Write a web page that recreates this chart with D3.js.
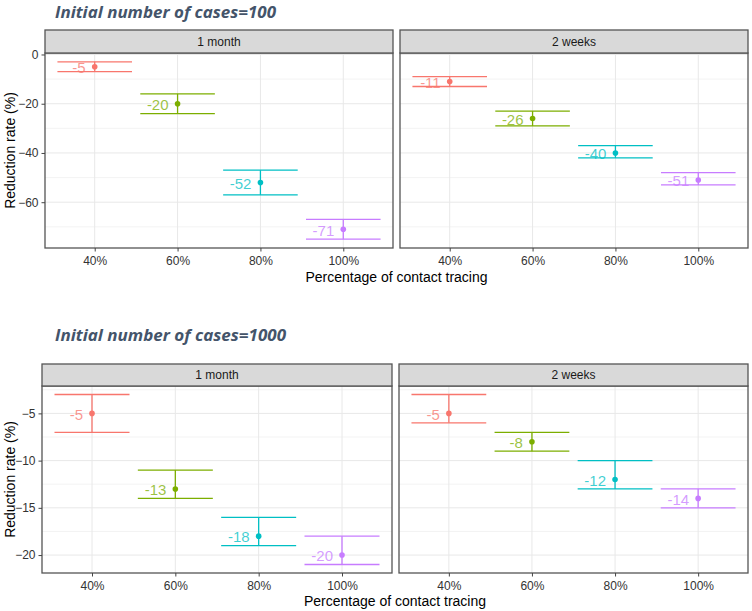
<!DOCTYPE html>
<html>
<head>
<meta charset="utf-8">
<script src="https://cdn.jsdelivr.net/npm/d3@7"></script>
<style>
  html, body { margin: 0; padding: 0; background: #fff; }
  svg { display: block; }
  text { font-family: "Liberation Sans", Arial, sans-serif; }
</style>
</head>
<body>
<svg id="chart" width="752" height="611"></svg>
<script>
// ---------------- data ----------------
const tracing = ["40%", "60%", "80%", "100%"];
const durations = ["1 month", "2 weeks"];
const seriesColors = ["#F8766D", "#7CAE00", "#00BFC4", "#C77CFF"];

const titles = ["Initial number of cases=100", "Initial number of cases=1000"];

// Initial cases = 100
const c100MonthMean = [-5, -20, -52, -71];
const c100MonthLow  = [-7, -24, -57, -75];
const c100MonthHigh = [-3, -16, -47, -67];
const c100WeeksMean = [-11, -26, -40, -51];
const c100WeeksLow  = [-13, -29, -42, -53];
const c100WeeksHigh = [-9, -23, -37, -48];
const yTicks100 = [0, -20, -40, -60];
const yMinor100 = [-10, -30, -50, -70];

// Initial cases = 1000
const c1000MonthMean = [-5, -13, -18, -20];
const c1000MonthLow  = [-7, -14, -19, -21];
const c1000MonthHigh = [-3, -11, -16, -18];
const c1000WeeksMean = [-5, -8, -12, -14];
const c1000WeeksLow  = [-6, -9, -13, -15];
const c1000WeeksHigh = [-3, -7, -10, -13];
const yTicks1000 = [-5, -10, -15, -20];
const yMinor1000 = [-2.5, -7.5, -12.5, -17.5];

const yTitle = "Reduction rate (%)";
const xTitle = "Percentage of contact tracing";

// ---------------- build ----------------
function rows(mean, low, high) {
  return tracing.map((t, i) => ({ t, i, mean: mean[i], low: low[i], high: high[i] }));
}

const charts = [
  {
    title: titles[0], titleY: 18, titleW: 221,
    panels: [rows(c100MonthMean, c100MonthLow, c100MonthHigh), rows(c100WeeksMean, c100WeeksLow, c100WeeksHigh)],
    ticks: yTicks100, minor: yMinor100,
    px: [[45, 393], [400, 748]], stripTop: 30, panelTop: 53, panelBottom: 248,
    xTitleY: 282, yTitleX: 15
  },
  {
    title: titles[1], titleY: 341, titleW: 231,
    panels: [rows(c1000MonthMean, c1000MonthLow, c1000MonthHigh), rows(c1000WeeksMean, c1000WeeksLow, c1000WeeksHigh)],
    ticks: yTicks1000, minor: yMinor1000,
    px: [[42, 392], [399, 748]], stripTop: 364, panelTop: 386, panelBottom: 573,
    xTitleY: 606, yTitleX: 15
  }
];

const svg = d3.select("#chart");

charts.forEach(ch => {
  const g = svg.append("g");

  // title
  g.append("text")
    .attr("x", 55).attr("y", ch.titleY)
    .attr("textLength", ch.titleW).attr("lengthAdjust", "spacingAndGlyphs")
    .style("font-family", "'Open Sans', 'Noto Sans', sans-serif")
    .style("font-style", "italic").style("font-weight", 700)
    .style("font-size", "15.5px").attr("fill", "#44546A")
    .text(ch.title);

  // y scale shared (ggplot 5% expansion)
  const allLow = d3.min(ch.panels.flat(), d => d.low);
  const allHigh = d3.max(ch.panels.flat(), d => d.high);
  const pad = (allHigh - allLow) * 0.05;
  const y = d3.scaleLinear().domain([allLow - pad, allHigh + pad]).range([ch.panelBottom, ch.panelTop]);

  ch.panels.forEach((data, pi) => {
    const [x0, x1] = ch.px[pi];
    const x = d3.scalePoint().domain(tracing).range([x0, x1]).padding(0.6);
    const step = x.step();
    const pg = g.append("g");

    pg.append("rect").attr("x", x0).attr("y", ch.panelTop)
      .attr("width", x1 - x0).attr("height", ch.panelBottom - ch.panelTop).attr("fill", "#fff");

    // minor grid
    pg.selectAll(".minor").data(ch.minor.filter(v => y(v) > ch.panelTop && y(v) < ch.panelBottom))
      .join("line")
      .attr("x1", x0).attr("x2", x1).attr("y1", d => y(d)).attr("y2", d => y(d))
      .attr("stroke", "#f0f0f0").attr("stroke-width", 0.8);
    // major grid
    pg.selectAll(".majorY").data(ch.ticks).join("line")
      .attr("x1", x0).attr("x2", x1).attr("y1", d => y(d)).attr("y2", d => y(d))
      .attr("stroke", "#e8e8e8").attr("stroke-width", 1);
    pg.selectAll(".majorX").data(tracing).join("line")
      .attr("x1", d => x(d)).attr("x2", d => x(d)).attr("y1", ch.panelTop).attr("y2", ch.panelBottom)
      .attr("stroke", "#e8e8e8").attr("stroke-width", 1);

    // error bars
    const eb = pg.selectAll(".eb").data(data).join("g")
      .attr("stroke", d => seriesColors[d.i]).attr("stroke-width", 1.3).attr("fill", "none");
    eb.append("line")
      .attr("x1", d => x(d.t) - 0.45 * step).attr("x2", d => x(d.t) + 0.45 * step)
      .attr("y1", d => y(d.high)).attr("y2", d => y(d.high));
    eb.append("line")
      .attr("x1", d => x(d.t) - 0.45 * step).attr("x2", d => x(d.t) + 0.45 * step)
      .attr("y1", d => y(d.low)).attr("y2", d => y(d.low));
    eb.append("line")
      .attr("x1", d => x(d.t)).attr("x2", d => x(d.t))
      .attr("y1", d => y(d.high)).attr("y2", d => y(d.low));

    // points
    pg.selectAll(".pt").data(data).join("circle")
      .attr("cx", d => x(d.t)).attr("cy", d => y(d.mean)).attr("r", 2.8)
      .attr("fill", d => seriesColors[d.i]);

    // value labels
    pg.selectAll(".lab").data(data).join("text")
      .attr("x", d => x(d.t) - 9).attr("y", d => y(d.mean)).attr("dy", "0.42em")
      .attr("text-anchor", "end").style("font-size", "15px")
      .attr("fill", d => seriesColors[d.i]).attr("fill-opacity", 0.75)
      .text(d => d.mean);

    // panel border
    pg.append("rect").attr("x", x0).attr("y", ch.panelTop)
      .attr("width", x1 - x0).attr("height", ch.panelBottom - ch.panelTop)
      .attr("fill", "none").attr("stroke", "#555").attr("stroke-width", 1.3);

    // strip
    pg.append("rect").attr("x", x0).attr("y", ch.stripTop)
      .attr("width", x1 - x0).attr("height", ch.panelTop - ch.stripTop)
      .attr("fill", "#d9d9d9").attr("stroke", "#555").attr("stroke-width", 1.3);
    pg.append("text")
      .attr("x", (x0 + x1) / 2).attr("y", (ch.stripTop + ch.panelTop) / 2).attr("dy", "0.36em")
      .attr("text-anchor", "middle").style("font-size", "12px").attr("fill", "#1a1a1a")
      .text(durations[pi]);

    // x axis
    const xAxis = d3.axisBottom(x).tickSize(3.5).tickPadding(5);
    const xa = pg.append("g").attr("transform", `translate(0,${ch.panelBottom})`).call(xAxis);
    xa.select(".domain").remove();
    xa.selectAll(".tick line").attr("stroke", "#444");
    xa.selectAll(".tick text").style("font-size", "12px").attr("fill", "#333")
      .style("font-family", "'Liberation Sans', Arial, sans-serif");

    // y axis only on left panel
    if (pi === 0) {
      const yAxis = d3.axisLeft(y).tickValues(ch.ticks).tickSize(3.5).tickPadding(3).tickFormat(d3.format("d"));
      const ya = pg.append("g").attr("transform", `translate(${x0},0)`).call(yAxis);
      ya.select(".domain").remove();
      ya.selectAll(".tick line").attr("stroke", "#444");
      ya.selectAll(".tick text").style("font-size", "12px").attr("fill", "#333")
        .style("font-family", "'Liberation Sans', Arial, sans-serif");
    }
  });

  // axis titles
  const left = ch.px[0][0], right = ch.px[1][1];
  g.append("text")
    .attr("x", (left + right) / 2).attr("y", ch.xTitleY)
    .attr("text-anchor", "middle").style("font-size", "14px").attr("fill", "#000")
    .text(xTitle);
  g.append("text")
    .attr("transform", `translate(${ch.yTitleX},${(ch.panelTop + ch.panelBottom) / 2}) rotate(-90)`)
    .attr("text-anchor", "middle").style("font-size", "14px").attr("fill", "#000")
    .text(yTitle);
});
</script>
</body>
</html>
